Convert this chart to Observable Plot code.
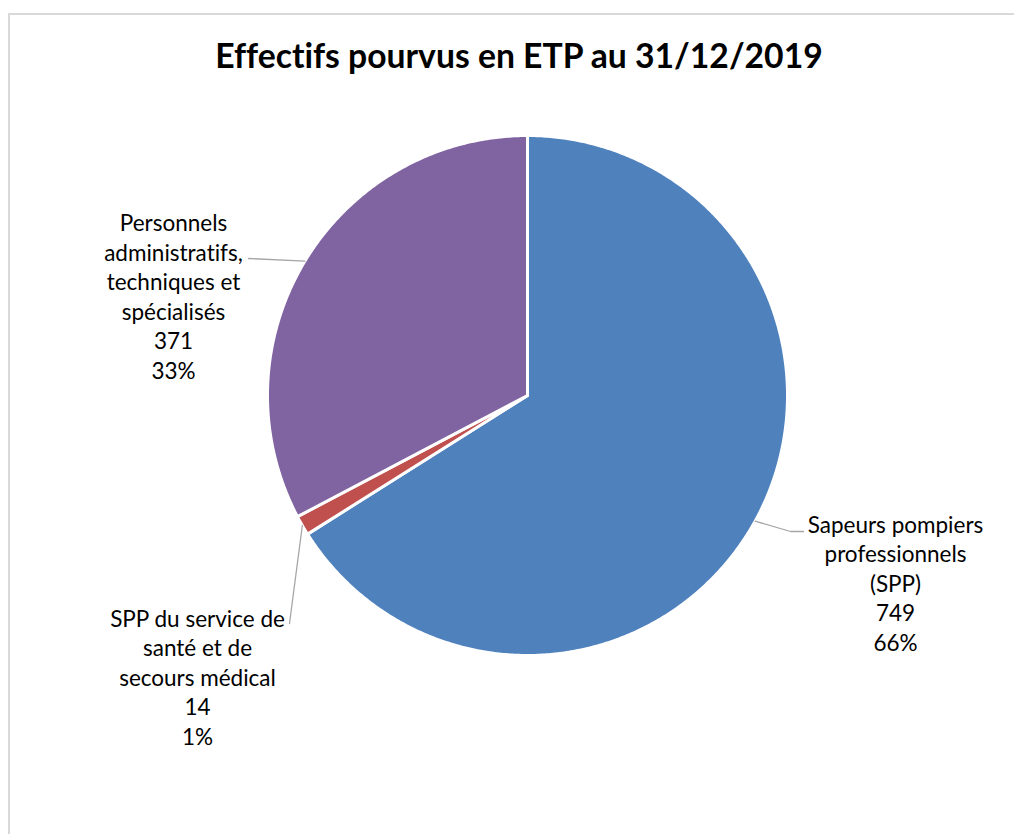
<!DOCTYPE html>
<html><head><meta charset="utf-8">
<script src="https://cdn.jsdelivr.net/npm/d3@7"></script>
<script src="https://cdn.jsdelivr.net/npm/@observablehq/plot@0.6"></script>
<style>
html,body{margin:0;padding:0;background:#fff;overflow:hidden;width:1014px;height:834px}
#wrap{position:relative;width:1014px;height:834px}
#frame{position:absolute;left:8px;top:13px;width:1100px;height:900px;border:2px solid #d9d9d9;box-sizing:border-box}
#title{position:absolute;left:0;top:35px;width:1038px;text-align:center;font:bold 33.7px Lato, sans-serif;color:#000;font-variant-ligatures:none;white-space:nowrap}
#chart{position:absolute;left:0;top:0}
#chart text{font-variant-ligatures:none}
</style></head>
<body><div id="wrap"><div id="frame"></div><div id="chart"></div><div id="title">Effectifs pourvus en ETP au 31/12/2019</div></div>
<script>
// ---- data ----
const categories = [
  "Sapeurs pompiers professionnels (SPP)",
  "SPP du service de santé et de secours médical",
  "Personnels administratifs, techniques et spécialisés"
];
const labelLines = [
  ["Sapeurs pompiers", "professionnels", "(SPP)"],
  ["SPP du service de", "santé et de", "secours médical"],
  ["Personnels", "administratifs,", "techniques et", "spécialisés"]
];
const values = [749, 14, 371];
const colors = ["#4F81BD", "#C0504D", "#8064A2"];

// ---- layout (pixels, relative to pie centre, y up) ----
const W = 1014, H = 834, CX = 527, CY = 395, R = 260;
const labelPos = [[368, -187], [-330, -281], [-354, 100]];
const leaderPath = [[[263, -136], [276, -136]], [[-238, -228]], [[-279, 137]]];

const total = d3.sum(values);
const arcs = d3.pie().sort(null).value(d => d)(values);

const slicePts = [];
arcs.forEach((a, i) => {
  slicePts.push({slice: categories[i], x: 0, y: 0});
  const n = Math.max(4, Math.ceil((a.endAngle - a.startAngle) / (Math.PI / 360)));
  for (let k = 0; k <= n; k++) {
    const t = a.startAngle + (a.endAngle - a.startAngle) * k / n;
    slicePts.push({slice: categories[i], x: R * Math.sin(t), y: R * Math.cos(t)});
  }
  slicePts.push({slice: categories[i], x: 0, y: 0});
});

const leaderPts = [];
arcs.forEach((a, i) => {
  const m = (a.startAngle + a.endAngle) / 2;
  leaderPts.push({slice: categories[i], x: R * Math.sin(m), y: R * Math.cos(m)});
  leaderPath[i].forEach(p => leaderPts.push({slice: categories[i], x: p[0], y: p[1]}));
});

const labels = values.map((v, i) => ({
  slice: categories[i],
  x: labelPos[i][0], y: labelPos[i][1],
  text: [...labelLines[i], String(v), Math.round(v / total * 100) + "%"].join("\n")
}));

const chart = Plot.plot({
  width: W, height: H,
  margin: 0,
  x: {domain: [-CX, W - CX], axis: null},
  y: {domain: [-(H - CY), CY], axis: null},
  color: {domain: categories, range: colors},
  style: {background: "transparent", fontFamily: "Lato, sans-serif"},
  marks: [
    Plot.line(slicePts, {x: "x", y: "y", z: "slice", fill: "slice", stroke: "white", strokeWidth: 3, strokeLinejoin: "round"}),
    Plot.line(leaderPts, {x: "x", y: "y", z: "slice", stroke: "#a6a6a6", strokeWidth: 1.3}),
    Plot.text(labels, {x: "x", y: "y", text: "text", fontSize: 22.5, lineHeight: 1.31, textAnchor: "middle", fill: "#000"})
  ]
});
document.getElementById("chart").appendChild(chart);
</script>
</body></html>
